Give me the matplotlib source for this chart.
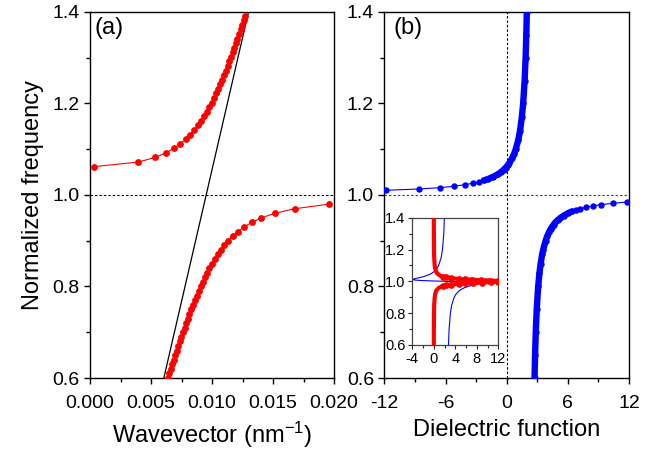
import numpy as np
import matplotlib
matplotlib.use('Agg')
import matplotlib.pyplot as plt
from matplotlib.ticker import MultipleLocator, FormatStrFormatter

plt.rcParams['font.family'] = ['Liberation Sans', 'DejaVu Sans']
plt.rcParams['mathtext.fontset'] = 'custom'
plt.rcParams['mathtext.rm'] = 'Liberation Sans'
plt.rcParams['mathtext.it'] = 'Liberation Sans:italic'
plt.rcParams['axes.unicode_minus'] = False

# ---------------- panel (a): polariton dispersion ----------------
w_up = [1.062, 1.072, 1.082, 1.092, 1.102, 1.112, 1.122, 1.132, 1.142, 1.152,
        1.162, 1.172, 1.182, 1.192, 1.202, 1.212, 1.222, 1.232, 1.242, 1.252,
        1.262, 1.272, 1.282, 1.292, 1.302, 1.312, 1.322, 1.332, 1.342, 1.352,
        1.362, 1.372, 1.382, 1.392]
k_up = [0.00033, 0.003969, 0.005318, 0.006209, 0.006872, 0.007400, 0.007838,
        0.008212, 0.008538, 0.008830, 0.009094, 0.009336, 0.009559, 0.009769,
        0.009966, 0.010152, 0.010331, 0.010502, 0.010667, 0.010824, 0.010978,
        0.011128, 0.011273, 0.011415, 0.011554, 0.011690, 0.011824, 0.011955,
        0.012085, 0.012213, 0.012339, 0.012463, 0.012586, 0.012708]

w_lo = [0.60, 0.61, 0.62, 0.63, 0.64, 0.65, 0.66, 0.67, 0.68, 0.69, 0.70,
        0.71, 0.72, 0.73, 0.74, 0.75, 0.76, 0.77, 0.78, 0.79, 0.80, 0.81,
        0.82, 0.83, 0.84, 0.85, 0.86, 0.87, 0.88, 0.89, 0.90, 0.91, 0.92,
        0.93, 0.94, 0.95, 0.96, 0.97, 0.98]
k_lo = [0.006391, 0.006508, 0.006627, 0.006745, 0.006866, 0.006987, 0.007109,
        0.007233, 0.007358, 0.007485, 0.007614, 0.007745, 0.007878, 0.008013,
        0.008151, 0.008292, 0.008437, 0.008585, 0.008738, 0.008895, 0.009058,
        0.009227, 0.009404, 0.009589, 0.009784, 0.009992, 0.010214, 0.010453,
        0.010714, 0.011001, 0.011323, 0.011688, 0.012113, 0.012620, 0.013245,
        0.014050, 0.015148, 0.016784, 0.019605]

k_light = [0.00605, 0.01299]
w_light = [0.6, 1.4]

# ---------------- panel (b): dielectric function ----------------
w_b_hi = [1.0103, 1.0131, 1.016, 1.019, 1.0225, 1.0256, 1.028, 1.032, 1.035,
          1.04, 1.045, 1.05, 1.055, 1.06, 1.065, 1.07, 1.08, 1.09, 1.10, 1.12,
          1.14, 1.17, 1.20, 1.25, 1.30, 1.35, 1.40]
e_b_hi = [-11.83, -8.60, -6.58, -5.14, -4.13, -3.31, -2.70, -2.24, -1.817,
          -1.296, -0.891, -0.567, -0.302, -0.081, 0.106, 0.266, 0.526, 0.729,
          0.890, 1.133, 1.306, 1.489, 1.617, 1.761, 1.857, 1.925, 1.976]

w_b_lo = [0.9845, 0.982, 0.979, 0.976, 0.973, 0.970, 0.967, 0.964, 0.96,
          0.955, 0.95, 0.945, 0.94, 0.935, 0.93, 0.925, 0.92, 0.91, 0.90,
          0.88, 0.87, 0.85, 0.83, 0.80, 0.75, 0.70, 0.65, 0.60]
e_b_lo = [11.77, 10.46, 9.30, 8.43, 7.76, 7.22, 6.78, 6.41, 6.00, 5.597,
          5.273, 5.008, 4.787, 4.600, 4.440, 4.301, 4.180, 3.978, 3.816,
          3.574, 3.480, 3.332, 3.218, 3.091, 2.947, 2.852, 2.785, 2.736]

# ---------------- inset: Re / Im of damped dielectric function ----------------
w_in = [0.6, 0.7, 0.8, 0.85, 0.9, 0.92, 0.94, 0.95, 0.96, 0.97, 0.975, 0.98,
        0.985, 0.9875, 0.99, 0.9925, 0.995, 0.9975, 1.0, 1.0025, 1.005, 1.0075,
        1.01, 1.0125, 1.015, 1.02, 1.025, 1.03, 1.04, 1.05, 1.06, 1.08, 1.1,
        1.15, 1.2, 1.3, 1.4]
re_in = [2.736, 2.852, 3.089, 3.327, 3.798, 4.145, 4.703, 5.128, 5.724, 6.59,
         7.161, 7.815, 8.429, 8.606, 8.542, 8.035, 6.849, 4.86, 2.28, -0.281,
         -2.234, -3.372, -3.846, -3.895, -3.712, -3.09, -2.438, -1.87, -1.008,
         -0.415, 0.008, 0.564, 0.91, 1.381, 1.619, 1.858, 1.976]
im_in = [0.010, 0.018, 0.042, 0.075, 0.168, 0.260, 0.456, 0.647, 0.983, 1.648,
         2.246, 3.192, 4.740, 5.859, 7.259, 8.907, 10.62, 12.01, 12.53, 11.95,
         10.54, 8.812, 7.173, 5.792, 4.688, 3.159, 2.226, 1.635, 0.977, 0.643,
         0.454, 0.259, 0.167, 0.075, 0.042, 0.0185, 0.0103]

RED = '#ff0000'
BLUE = '#0000ff'

fig = plt.figure(figsize=(6.59, 4.54), dpi=100)
axA = fig.add_axes([0.1366, 0.1674, 0.3703, 0.8062])
axB = fig.add_axes([0.5832, 0.1674, 0.3713, 0.8062])
axI = fig.add_axes([0.6256, 0.2401, 0.1305, 0.2804])

dash = (0, (2.2, 1.8))

def style_main(ax):
    for s in ax.spines.values():
        s.set_linewidth(1.0)
        s.set_color('black')
    ax.tick_params(which='both', direction='out', top=False, right=False,
                   width=1.0, labelsize=14)
    ax.tick_params(which='major', length=4.5)
    ax.tick_params(which='minor', length=2.6)
    ax.tick_params(axis='x', pad=8)
    ax.tick_params(axis='y', pad=3)
    ax.set_ylim(0.6, 1.4)
    ax.yaxis.set_major_locator(MultipleLocator(0.2))
    ax.yaxis.set_minor_locator(MultipleLocator(0.1))
    ax.yaxis.set_major_formatter(FormatStrFormatter('%.1f'))

# ---- panel (a)
style_main(axA)
axA.set_xlim(0, 0.02)
axA.xaxis.set_major_locator(MultipleLocator(0.005))
axA.xaxis.set_minor_locator(MultipleLocator(0.0025))
axA.xaxis.set_major_formatter(FormatStrFormatter('%.3f'))
axA.axhline(1.0, color='black', lw=0.8, ls=dash, zorder=1)
axA.plot(k_light, w_light, color='black', lw=0.9, zorder=2)
axA.plot(k_up, w_up, '-o', color=RED, lw=0.8, ms=3.9, mec=RED, zorder=3)
axA.plot(k_lo, w_lo, '-o', color=RED, lw=0.8, ms=3.9, mec=RED, zorder=3)
axA.set_xlabel('Wavevector (nm$^{-1}$)', fontsize=17, labelpad=5)
axA.set_ylabel('Normalized frequency', fontsize=17, labelpad=6)
axA.text(0.02, 0.985, '(a)', transform=axA.transAxes, fontsize=17,
         ha='left', va='top')

# ---- panel (b)
style_main(axB)
axB.set_xlim(-12, 12)
axB.xaxis.set_major_locator(MultipleLocator(6))
axB.xaxis.set_minor_locator(MultipleLocator(3))
axB.xaxis.set_major_formatter(FormatStrFormatter('%d'))
axB.axhline(1.0, color='0.25', lw=0.8, ls=dash, zorder=1)
axB.axvline(0.0, color='black', lw=0.8, ls=dash, zorder=1)
# thin connecting line + dots
axB.plot(e_b_hi, w_b_hi, '-o', color=BLUE, lw=0.8, ms=3.6, mec=BLUE, zorder=3)
axB.plot(e_b_lo, w_b_lo, '-o', color=BLUE, lw=0.8, ms=3.6, mec=BLUE, zorder=3)
# dense part of the data (overlapping dots) drawn as a thick band
axB.plot(e_b_hi[7:], w_b_hi[7:], '-', color=BLUE, lw=4.6,
         solid_capstyle='round', zorder=3)
axB.plot(e_b_lo[7:], w_b_lo[7:], '-', color=BLUE, lw=4.6,
         solid_capstyle='round', zorder=3)
axB.set_xlabel('Dielectric function', fontsize=17, labelpad=5)
axB.text(0.037, 0.985, '(b)', transform=axB.transAxes, fontsize=17,
         ha='left', va='top')

# ---- inset
for s in axI.spines.values():
    s.set_linewidth(0.9)
    s.set_color('#444444')
axI.set_xlim(-4, 12)
axI.set_ylim(0.6, 1.4)
axI.xaxis.set_major_locator(MultipleLocator(4))
axI.xaxis.set_minor_locator(MultipleLocator(2))
axI.yaxis.set_major_locator(MultipleLocator(0.2))
axI.yaxis.set_minor_locator(MultipleLocator(0.1))
axI.yaxis.set_major_formatter(FormatStrFormatter('%.1f'))
axI.xaxis.set_major_formatter(FormatStrFormatter('%d'))
axI.tick_params(which='both', direction='out', top=False, right=False,
                width=0.8, labelsize=10.5, pad=2, color='#222222')
axI.tick_params(which='major', length=3)
axI.tick_params(which='minor', length=2)
axI.plot(re_in, w_in, color=BLUE, lw=0.8, zorder=2)
axI.plot(im_in, w_in, color=RED, lw=3.0, solid_joinstyle='round', zorder=3)
im_arr = np.asarray(im_in)
w_arr = np.asarray(w_in)
sel = im_arr > 1.5
axI.plot(im_arr[sel], w_arr[sel], 'o', color=RED, ms=3.8, mec=RED, zorder=4)

fig.savefig('out.png', dpi=100)
